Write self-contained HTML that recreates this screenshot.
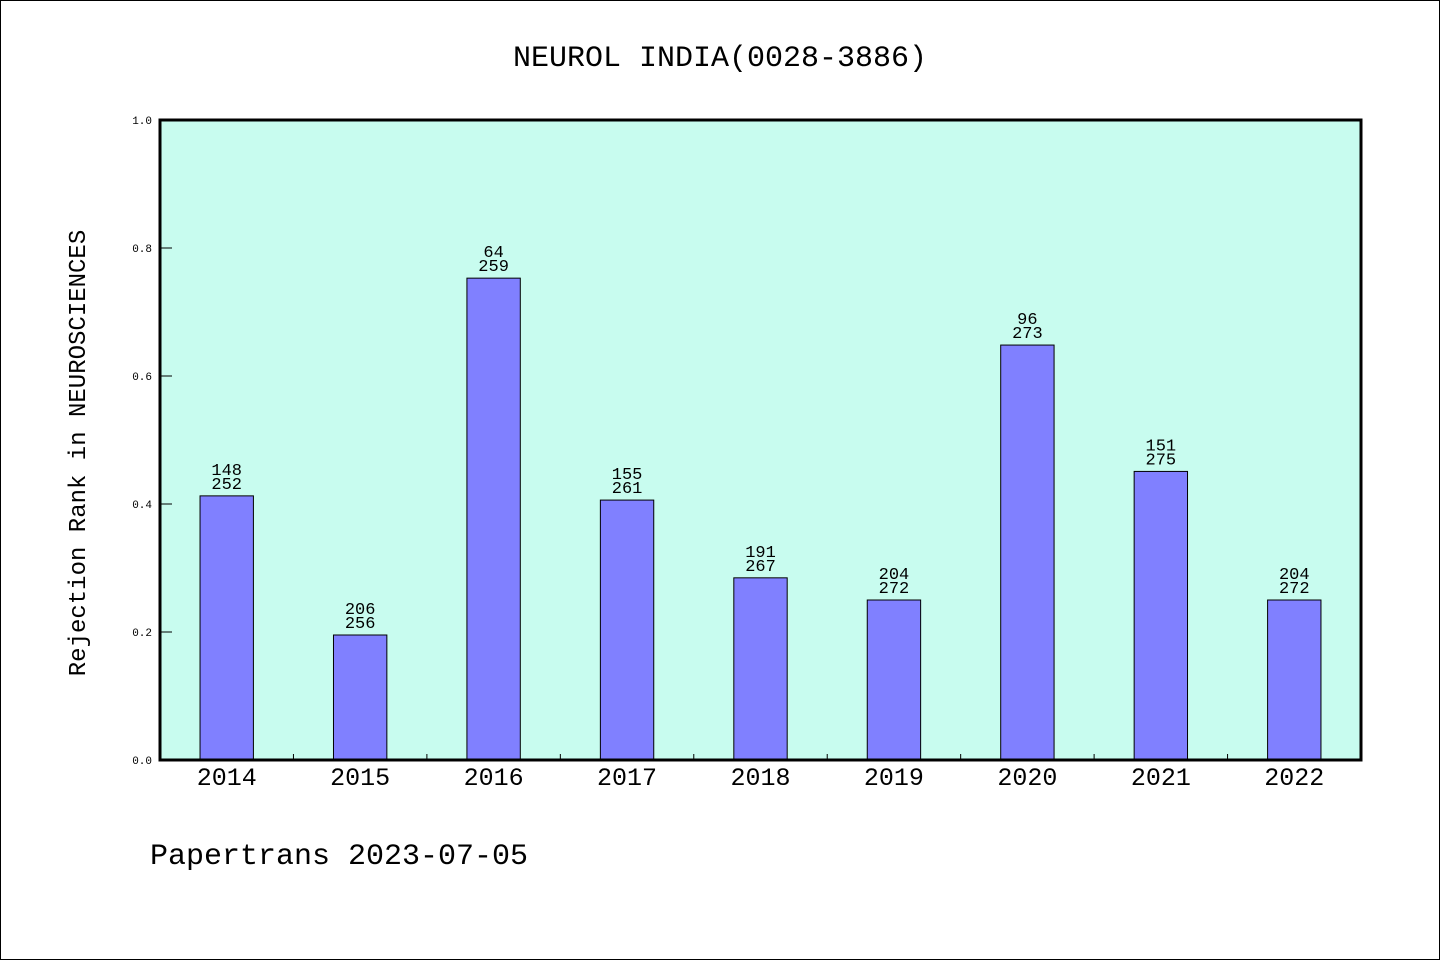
<!DOCTYPE html>
<html><head><meta charset="utf-8"><style>
html,body{margin:0;padding:0;background:#fff}
svg{display:block}
text{font-family:"WenQuanYi Zen Hei Mono","Liberation Mono",monospace;fill:#000}
</style></head><body>
<svg id="chart" width="1440" height="960" viewBox="0 0 1440 960">
<rect x="0.5" y="0.5" width="1439" height="959" fill="#fff" stroke="#000"/>
<text x="720" y="66" font-size="30" text-anchor="middle">NEUROL INDIA(0028-3886)</text>
<rect x="160" y="120" width="1201" height="640" fill="#c8fcef"/>
<g id="marks"></g>
<rect x="160" y="120" width="1201" height="640" fill="none" stroke="#000" stroke-width="3"/>
<text transform="translate(85,453) rotate(-90)" font-size="24" text-anchor="middle">Rejection Rank in NEUROSCIENCES</text>
<text x="150" y="864" font-size="30">Papertrans 2023-07-05</text>
</svg>
<script>
const categories=["2014","2015","2016","2017","2018","2019","2020","2021","2022"];
const ranks=[148,206,64,155,191,204,96,151,204];
const totals=[252,256,259,261,267,272,273,275,272];
const yTicks=[0,0.2,0.4,0.6,0.8,1.0];
const yTickLabels=["0.0","0.2","0.4","0.6","0.8","1.0"];
const X0=160,W=1201,Y0=760,H=640;
const slot=W/categories.length;
const xC=i=>X0+slot*(i+0.5);
const yS=v=>Y0-v*H;
const ns="http://www.w3.org/2000/svg";
const g=document.getElementById('marks');
function mk(t,a){const e=document.createElementNS(ns,t);for(const k in a)e.setAttribute(k,a[k]);g.appendChild(e);return e;}
yTicks.forEach((v,i)=>{
  const l=mk('line',{x1:X0,x2:X0+12,y1:yS(v),y2:yS(v),stroke:'#000','stroke-width':1});
  
  
  const t=mk('text',{x:X0-8,y:yS(v)+4,'font-size':11,'text-anchor':'end'});
  t.textContent=yTickLabels[i];
  
  
});
for(let i=1;i<categories.length;i++){
  const l=mk('line',{x1:X0+slot*i,x2:X0+slot*i,y1:Y0,y2:Y0-6,stroke:'#000','stroke-width':1});
  
  
}
const bw=slot*0.4;
categories.forEach((c,i)=>{
  const v=1-ranks[i]/totals[i];
  const y=yS(v);
  const r=mk('rect',{x:xC(i)-bw/2,y:y,width:bw,height:Y0-y,fill:'#8080ff',stroke:'#000','stroke-width':1});
  
  
  const t1=mk('text',{x:xC(i),y:y-21,'font-size':17,'text-anchor':'middle'});
  t1.textContent=ranks[i];
  
  
  const t2=mk('text',{x:xC(i),y:y-7,'font-size':17,'text-anchor':'middle'});
  t2.textContent=totals[i];
  
  
  const xl=mk('text',{x:xC(i),y:785,'font-size':25,'text-anchor':'middle'});
  xl.textContent=c;
  
  
});
</script>
</body></html>
